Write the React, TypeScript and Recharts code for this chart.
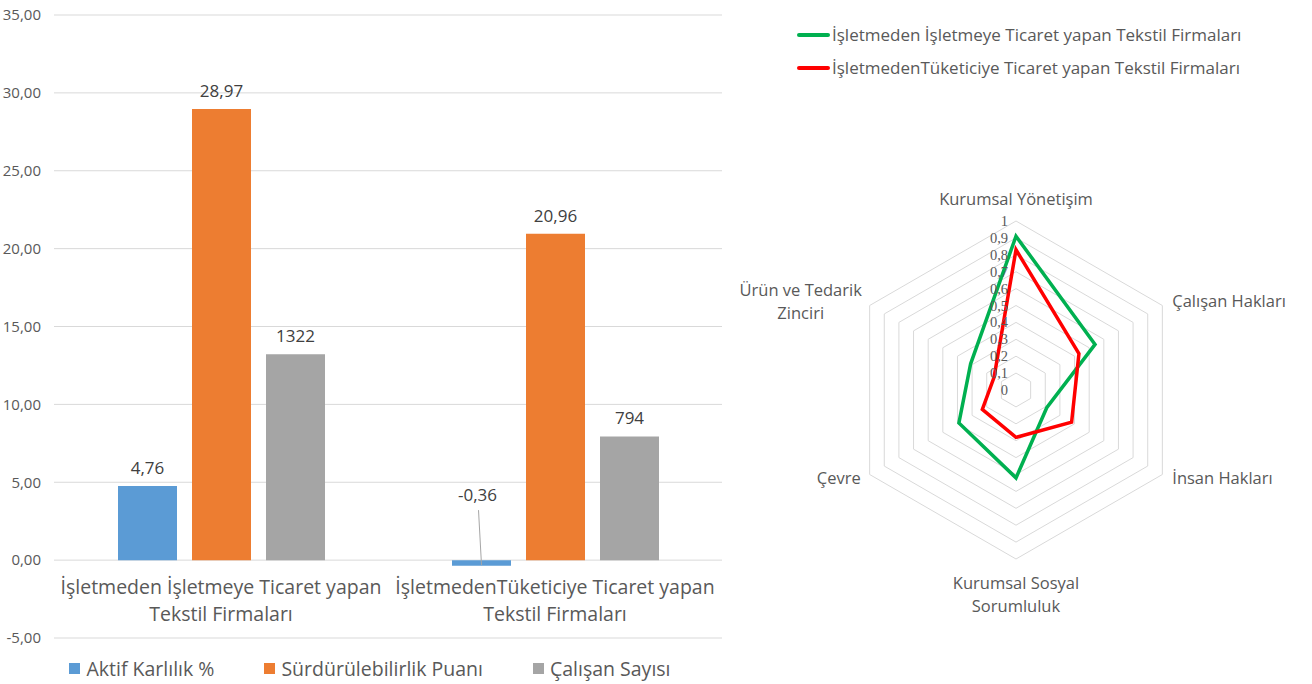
import React from 'react';
import {
  BarChart,
  Bar,
  XAxis,
  YAxis,
  CartesianGrid,
  Legend,
  LabelList,
  RadarChart,
  Radar,
  PolarGrid,
  PolarAngleAxis,
  PolarRadiusAxis,
} from 'recharts';

// bar chart
const firmaTurleri = [
  'İşletmeden İşletmeye Ticaret yapan\nTekstil Firmaları',
  'İşletmedenTüketiciye Ticaret yapan\nTekstil Firmaları',
];
const aktifKarlilik = [4.76, -0.36];
const surdurulebilirlikPuani = [28.97, 20.96];
const calisanSayisi = [1322, 794];
const barSeriesNames = ['Aktif Karlılık %', 'Sürdürülebilirlik Puanı', 'Çalışan Sayısı'];
const yTicks = [-5, 0, 5, 10, 15, 20, 25, 30, 35];

// radar chart
const boyutlar = [
  'Kurumsal Yönetişim',
  'Çalışan Hakları',
  'İnsan Hakları',
  'Kurumsal Sosyal\nSorumluluk',
  'Çevre',
  'Ürün ve Tedarik\nZinciri',
];
const isletmeyeSkor = [0.91, 0.54, 0.21, 0.52, 0.39, 0.31];
const tuketiciyeSkor = [0.83, 0.43, 0.38, 0.28, 0.23, 0.15];
const radarSeriesNames = [
  'İşletmeden İşletmeye Ticaret yapan Tekstil Firmaları',
  'İşletmedenTüketiciye Ticaret yapan Tekstil Firmaları',
];

const BLUE = '#5b9bd5';
const ORANGE = '#ed7d31';
const GRAY = '#a5a5a5';
const GREEN = '#00b050';
const RED = '#ff0000';
const TEXT = '#595959';
const FONT = '"Open Sans", Lato, sans-serif';

const barData = firmaTurleri.map((name, i) => ({
  name,
  aktif: aktifKarlilik[i],
  puan: surdurulebilirlikPuani[i],
  // employee count is drawn on the same axis, scaled down by 100
  calisan: calisanSayisi[i] / 100,
  calisanEtiket: String(calisanSayisi[i]),
}));

const radarData = boyutlar.map((axis, i) => ({
  axis,
  b2b: isletmeyeSkor[i],
  b2c: tuketiciyeSkor[i],
}));

const fmt2 = (v: number) => v.toFixed(2).replace('.', ',');
const fmtRadar = (v: number) => String(Number(v.toFixed(1))).replace('.', ',');

function CategoryTick({ x, y, payload }: any) {
  const lines = String(payload.value).split('\n');
  return (
    <g>
      {lines.map((l, i) => (
        <text key={i} x={x} y={y - 52 + i * 27} textAnchor="middle" fill={TEXT} fontSize={19.5} fontFamily={FONT}>
          {l}
        </text>
      ))}
    </g>
  );
}

function ValueLabel(props: any) {
  const { x, y, width, height, value } = props;
  const top = Math.min(y, y + height);
  const cx = x + width / 2;
  const num = Number(value);
  const text = typeof value === 'number' ? fmt2(num) : String(value);
  if (num < 0) {
    return (
      <g>
        <line x1={cx - 3} y1={top - 50} x2={cx} y2={top + 5} stroke="#a6a6a6" strokeWidth={1} />
        <text x={cx - 4} y={top - 59} textAnchor="middle" fill="#404040" fontSize={17} fontFamily={FONT}>
          {text}
        </text>
      </g>
    );
  }
  return (
    <text x={cx} y={top - 12} textAnchor="middle" fill="#404040" fontSize={17} fontFamily={FONT}>
      {text}
    </text>
  );
}

function BarLegend({ payload }: any) {
  return (
    <div style={{ display: 'flex', justifyContent: 'center', gap: 50, fontFamily: FONT, fontSize: 19.5, color: TEXT }}>
      {(payload || []).map((p: any) => (
        <div key={p.value} style={{ display: 'flex', alignItems: 'center', gap: 6 }}>
          <span style={{ width: 11, height: 11, background: p.color, display: 'inline-block' }} />
          <span>{p.value}</span>
        </div>
      ))}
    </div>
  );
}

function RadarLegend({ payload }: any) {
  return (
    <div style={{ fontFamily: FONT, fontSize: 17, color: TEXT }}>
      {(payload || []).map((p: any) => (
        <div key={p.value} style={{ display: 'flex', alignItems: 'center', height: 33 }}>
          <span style={{ width: 33, height: 4, borderRadius: 2, background: p.color, display: 'inline-block', marginRight: 2 }} />
          <span>{p.value}</span>
        </div>
      ))}
    </div>
  );
}

function RadiusTick({ x, y, payload }: any) {
  return (
    <text x={x - 8} y={y} dy="0.35em" textAnchor="end" fill={TEXT} fontSize={14.5} fontFamily='"Liberation Serif", serif'>
      {fmtRadar(payload.value)}
    </text>
  );
}

function AngleTick({ x, y, payload, textAnchor }: any) {
  const lines = String(payload.value).split('\n');
  const lh = 23;
  const common = { fill: TEXT, fontSize: 16.5, fontFamily: FONT };
  if (textAnchor === 'middle') {
    const above = y < 390;
    return (
      <g>
        {lines.map((l, i) => (
          <text
            key={i}
            x={x}
            y={above ? y - 8 - (lines.length - 1 - i) * lh : y + 22 + i * lh}
            textAnchor="middle"
            {...common}
          >
            {l}
          </text>
        ))}
      </g>
    );
  }
  const startY = y - ((lines.length - 1) * lh) / 2;
  const multi = lines.length > 1;
  const ax = textAnchor === 'end' ? (multi ? x - 62 : x - 2) : x + 3;
  const anchor = multi ? 'middle' : textAnchor;
  return (
    <g>
      {lines.map((l, i) => (
        <text key={i} x={ax} y={startY + i * lh} dy="0.35em" textAnchor={anchor} {...common}>
          {l}
        </text>
      ))}
    </g>
  );
}

export default function App() {
  return (
    <div style={{ position: 'absolute', left: 0, top: 0, width: 1312, height: 684, background: '#fff', fontFamily: FONT }}>
      <div style={{ position: 'absolute', left: 0, top: 0 }}>
        <BarChart
          width={740}
          height={684}
          data={barData}
          margin={{ top: 15, right: 18, bottom: 40, left: 0 }}
          barCategoryGap={64}
          barGap={15}
        >
          <CartesianGrid vertical={false} stroke="#d9d9d9" />
          <XAxis
            dataKey="name"
            height={6}
            axisLine={false}
            tickLine={false}
            tick={<CategoryTick />}
            interval={0}
          />
          <YAxis
            width={54}
            domain={[-5, 35]}
            ticks={yTicks}
            axisLine={false}
            tickLine={false}
            tickMargin={7}
            tickFormatter={fmt2}
            tick={{ fill: TEXT, fontSize: 15, fontFamily: FONT }}
          />
          <Legend
            layout="horizontal"
            align="center"
            verticalAlign="middle"
            wrapperStyle={{ top: 655, left: 0, width: 740 }}
            content={<BarLegend />}
          />
          <Bar dataKey="aktif" name={barSeriesNames[0]} fill={BLUE} isAnimationActive={false}>
            <LabelList dataKey="aktif" content={<ValueLabel />} />
          </Bar>
          <Bar dataKey="puan" name={barSeriesNames[1]} fill={ORANGE} isAnimationActive={false}>
            <LabelList dataKey="puan" content={<ValueLabel />} />
          </Bar>
          <Bar dataKey="calisan" name={barSeriesNames[2]} fill={GRAY} isAnimationActive={false}>
            <LabelList dataKey="calisanEtiket" content={<ValueLabel />} />
          </Bar>
        </BarChart>
      </div>
      <div style={{ position: 'absolute', left: 740, top: 0 }}>
        <RadarChart
          width={572}
          height={684}
          data={radarData}
          cx={276}
          cy={390}
          outerRadius={169}
          margin={{ top: 0, right: 0, bottom: 0, left: 0 }}
        >
          <PolarGrid gridType="polygon" radialLines={false} stroke="#d9d9d9" />
          <PolarAngleAxis dataKey="axis" axisLine={false} tickLine={false} tick={<AngleTick />} />
          <PolarRadiusAxis
            type="number"
            angle={90}
            domain={[0, 1]}
            tickCount={11}
            allowDecimals={true}
            axisLine={false}
            tickLine={false}
            tick={<RadiusTick />}
          />
          <Radar
            dataKey="b2b"
            name={radarSeriesNames[0]}
            stroke={GREEN}
            strokeWidth={3.5}
            fill="none"
            fillOpacity={0}
            dot={false}
            isAnimationActive={false}
          />
          <Radar
            dataKey="b2c"
            name={radarSeriesNames[1]}
            stroke={RED}
            strokeWidth={3.5}
            fill="none"
            fillOpacity={0}
            dot={false}
            isAnimationActive={false}
          />
          <Legend
            layout="vertical"
            align="center"
            verticalAlign="middle"
            wrapperStyle={{ top: 18, left: 57, width: 500 }}
            content={<RadarLegend />}
          />
        </RadarChart>
      </div>
    </div>
  );
}
